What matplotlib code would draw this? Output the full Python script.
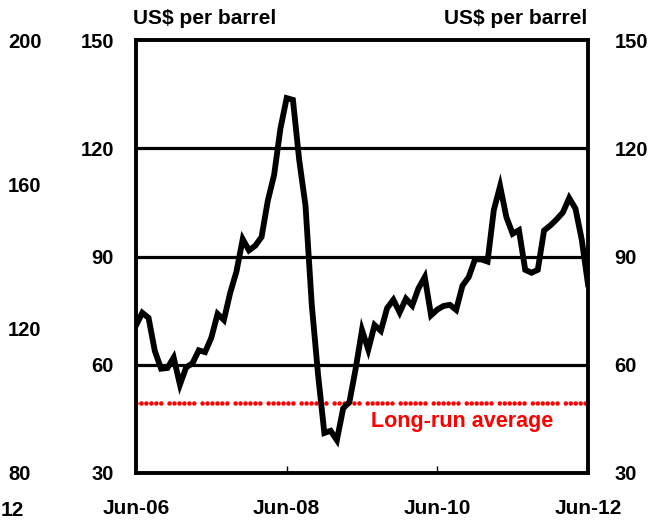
import matplotlib
matplotlib.use("Agg")
import matplotlib.pyplot as plt

plt.rcParams["font.family"] = ["Liberation Sans", "DejaVu Sans"]
plt.rcParams["font.weight"] = "bold"

# monthly oil price, Jun-06 .. Jun-12 (US$ per barrel)
prices = [
    70.9, 74.4, 73.0, 63.8, 58.9, 59.1, 62.0,              # Jun-06 .. Dec-06
    54.5, 59.3, 60.4, 64.0, 63.5, 67.5, 74.1, 72.4, 79.9, 85.8, 94.8, 91.7,   # 2007
    93.0, 95.4, 105.5, 112.6, 125.4, 133.9, 133.4, 116.7, 104.1, 76.6, 57.3, 41.1,  # 2008
    41.7, 39.1, 47.9, 49.7, 59.0, 69.6, 64.2, 71.0, 69.4, 75.7, 78.0, 74.5,   # 2009
    78.3, 76.4, 81.2, 84.3, 73.7, 75.3, 76.3, 76.6, 75.2, 81.9, 84.3, 89.2,   # 2010
    89.2, 88.6, 102.9, 109.5, 100.9, 96.3, 97.3, 86.3, 85.5, 86.3, 97.2, 98.6,  # 2011
    100.3, 102.2, 106.2, 103.3, 94.7, 82.3,                 # Jan-12 .. Jun-12
]
months = list(range(len(prices)))
long_run_avg = 49.4

x_ticks = [0, 24, 48, 72]
x_labels = ["Jun-06", "Jun-08", "Jun-10", "Jun-12"]
y_ticks = [30, 60, 90, 120, 150]

# right-hand axis of the neighbouring (clipped) panel
side_ticks = [80, 120, 160, 200]

W, H = 654, 521
fig = plt.figure(figsize=(W / 100, H / 100), dpi=100)
left, right, top, bottom = 136, 588, 40, 473
ax = fig.add_axes([left / W, 1 - bottom / H, (right - left) / W, (bottom - top) / H])

for y in [60, 90, 120]:
    ax.axhline(y, color="black", linewidth=2.3, zorder=1)

ax.plot(months, [long_run_avg] * len(months), color="#ff0000", linewidth=3.3,
        dashes=[0.001, 1.08] * 5 + [0.001, 1.8], dash_capstyle="round", zorder=2)
ax.plot(months, prices, color="black", linewidth=4.2, solid_joinstyle="miter", zorder=3)

ax.text(52, 44.4, "Long-run average", color="#ff0000", fontsize=15.5,
        fontweight="bold", ha="center", va="center")

ax.set_xlim(0, 72)
ax.set_ylim(30, 150)
ax.set_xticks(x_ticks)
ax.set_xticklabels(x_labels)
ax.set_yticks(y_ticks)
ax.tick_params(axis="x", direction="in", length=5, width=1, pad=19, labelsize=15)
ax.tick_params(axis="y", length=0, pad=16, labelsize=14.5)
for s in ax.spines.values():
    s.set_linewidth(2.8)

ax2 = ax.twinx()
ax2.set_ylim(30, 150)
ax2.set_yticks(y_ticks)
ax2.tick_params(axis="y", length=0, pad=19, labelsize=14.5)
for s in ax2.spines.values():
    s.set_visible(False)

side = fig.add_axes([8 / W, 1 - bottom / H, 0.0001, (bottom - top) / H])
side.set_ylim(80, 200)
side.set_yticks(side_ticks)
side.yaxis.tick_right()
side.tick_params(axis="y", length=0, pad=0, labelsize=14.5)
side.set_xticks([])
for s in side.spines.values():
    s.set_visible(False)

# visible tail of the neighbouring panel's last date label
fig.text(1 / W, 1 - 511 / H, "12", fontsize=15, fontweight="bold",
         ha="left", va="center")

fig.text(133 / W, 1 - 18 / H, "US$ per barrel", fontsize=15, fontweight="bold",
         ha="left", va="center")
fig.text(587 / W, 1 - 18 / H, "US$ per barrel", fontsize=15, fontweight="bold",
         ha="right", va="center")

fig.savefig("out.png", dpi=100)
